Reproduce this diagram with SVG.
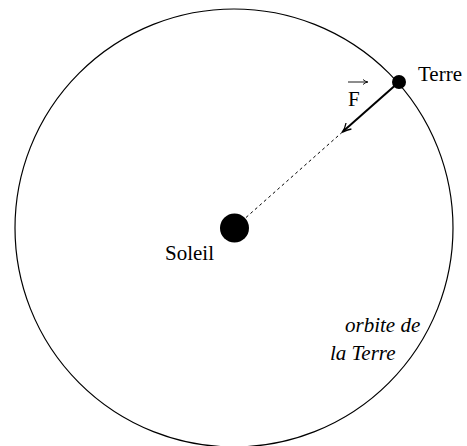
<svg xmlns="http://www.w3.org/2000/svg" width="467" height="446" viewBox="0 0 467 446">
<style>
.lbl{font-family:"Liberation Serif","Times New Roman",serif;font-size:21px;fill:#000}
.it{font-style:italic;font-size:21px}
.orb{fill:none;stroke:#000;stroke-width:1.2}
</style>
<rect width="467" height="446" fill="#fff"/>
<g id="orbit"><circle class="orb" cx="234" cy="228" r="219"/></g>
<g id="connectors">
<line x1="246" y1="217.5" x2="342" y2="132.4" stroke="#000" stroke-width="1" stroke-dasharray="3,3"/>
<line x1="399" y1="82" x2="343.5" y2="131" stroke="#000" stroke-width="2"/>
<path d="M346,123 Q345,129 342,132.4 Q347,130 351.4,129" fill="none" stroke="#000" stroke-width="1.3"/>
</g>
<g id="sun"><circle cx="234.5" cy="228" r="14.5" fill="#000"/><text class="lbl" x="165" y="260" font-size="22">Soleil</text></g>
<g id="earth"><circle cx="399" cy="82" r="7" fill="#000"/><text class="lbl" x="418" y="81">Terre</text></g>
<g id="force">
<text class="lbl" x="348" y="106" font-size="22">F</text>
<line x1="348" y1="82" x2="367" y2="82" stroke="#000" stroke-width="0.9"/>
<path d="M363,79.5 Q365,81.5 368,82 Q365,82.5 363,84.5" fill="none" stroke="#000" stroke-width="0.9"/>
</g>
<g id="orbit-label">
<text class="lbl it" x="345" y="332">orbite de</text>
<text class="lbl it" x="330" y="360">la Terre</text>
</g>
</svg>
